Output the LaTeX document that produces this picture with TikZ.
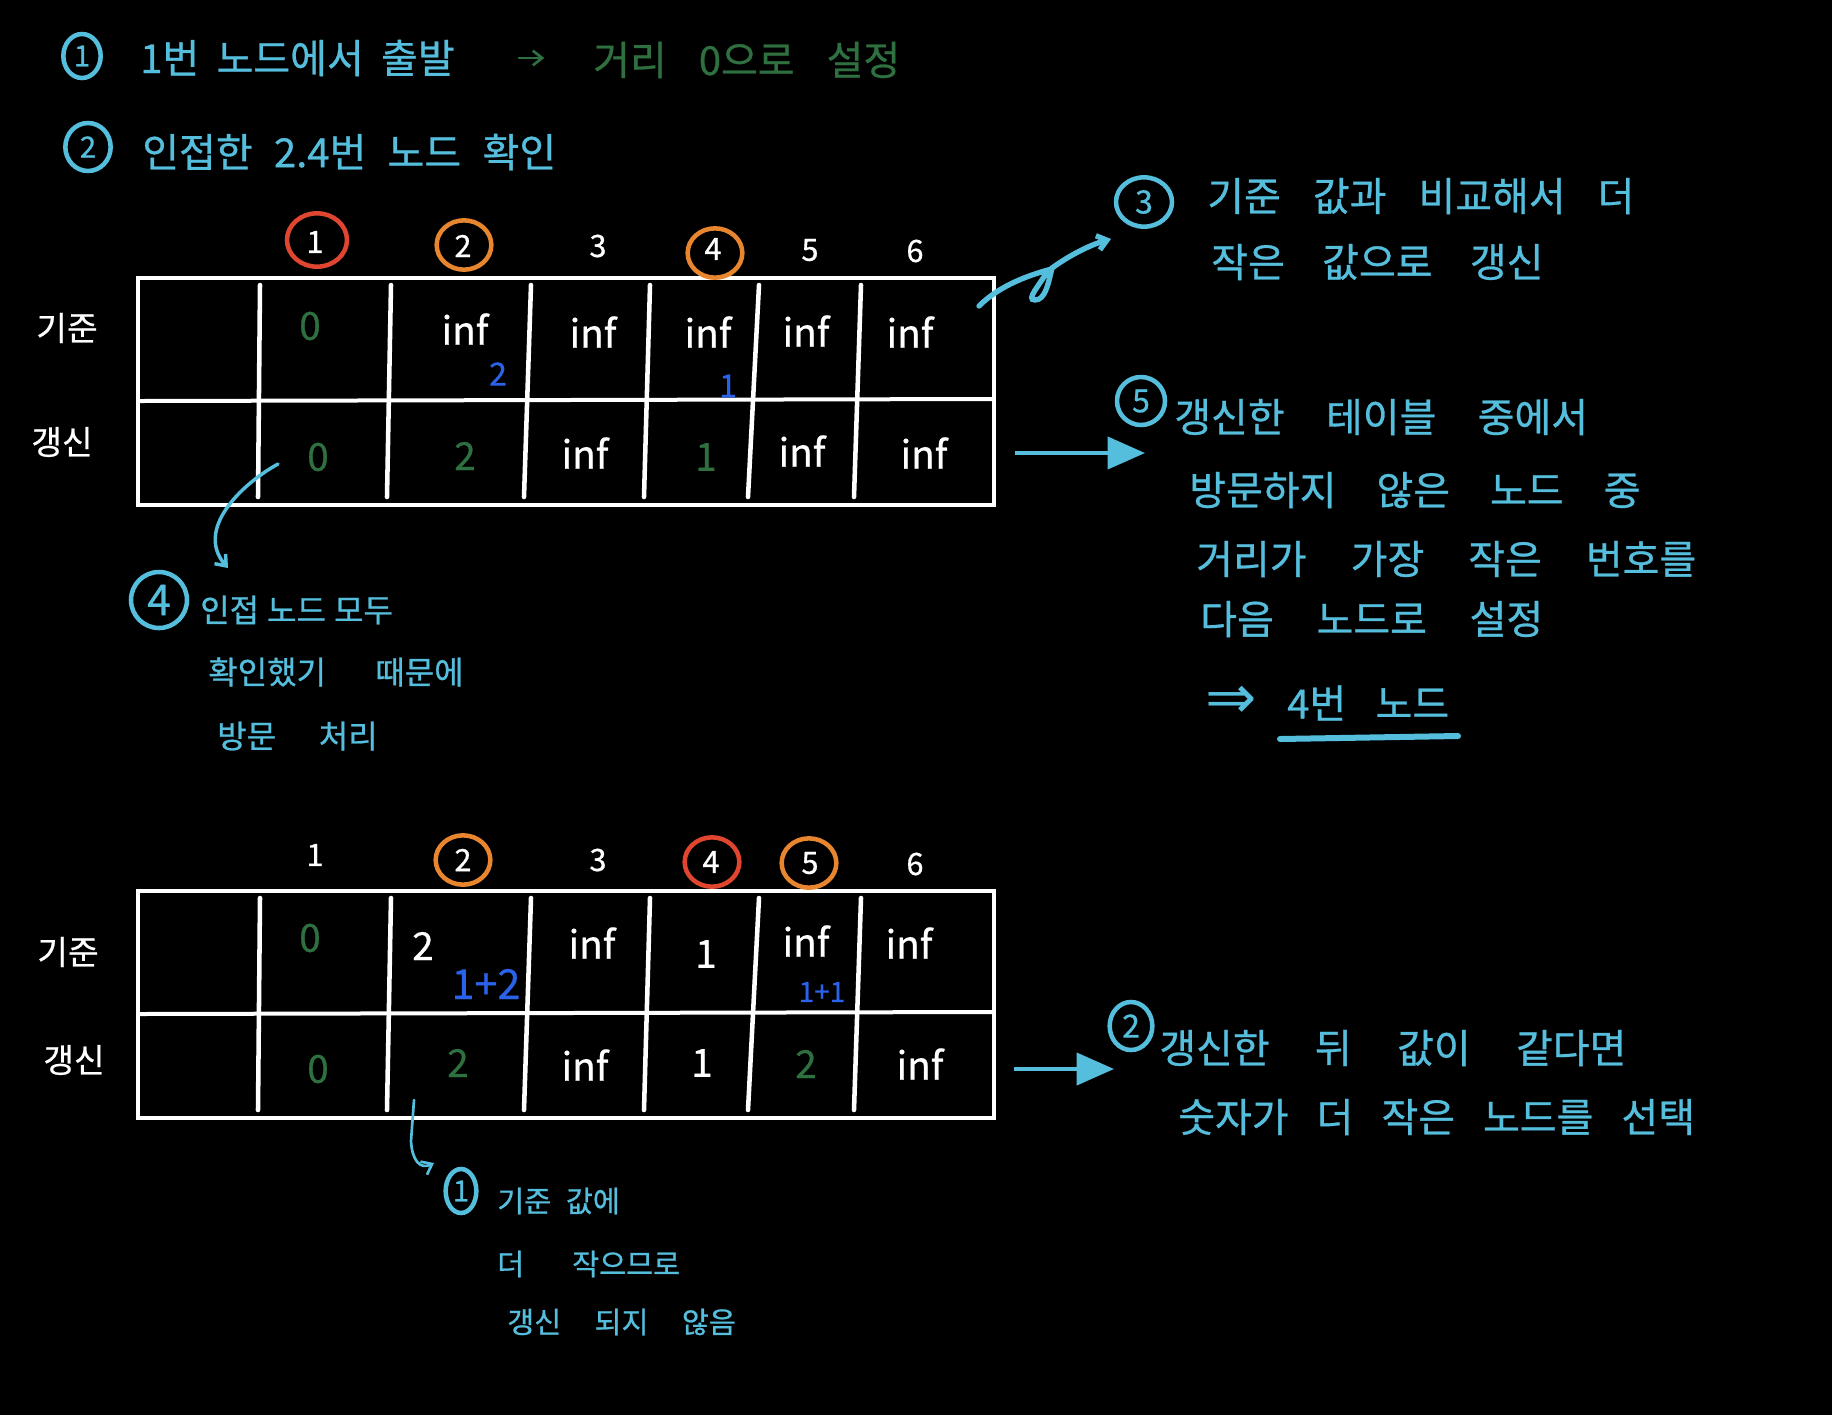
\documentclass[tikz,border=0pt]{standalone}
\usepackage{fontspec}
\setmainfont{Noto Sans CJK KR}[FakeBold=0.7]
\newfontfamily\symfont{DejaVu Sans}
\usepackage{tikz}
\usetikzlibrary{arrows.meta,positioning,shapes.geometric}
\usepackage{xcolor}
\definecolor{note}{HTML}{56BEDD}
\definecolor{dist}{HTML}{2F7040}
\definecolor{sumblue}{HTML}{2A62EA}
\definecolor{cur}{HTML}{E0452F}
\definecolor{near}{HTML}{E8852F}
\tikzset{
  gap/.style={execute at begin node={\spaceskip=#1pt\relax}},
  line/.style={font=\fontsize{30}{34}\selectfont, text=note, anchor=west, inner sep=0pt},
  smallline/.style={line, font=\fontsize{24}{28}\selectfont},
  tinyline/.style={line, font=\fontsize{22}{26}\selectfont},
  frame/.style={draw=white, line width=3pt, minimum width=642pt, minimum height=170pt, inner sep=0pt},
  cell/.style={font=\fontsize{29}{32}\selectfont, text=white, inner sep=0pt},
  head/.style={font=\fontsize{23}{26}\selectfont, text=white, inner sep=0pt},
  rowname/.style={font=\fontsize{25}{28}\selectfont, text=white, inner sep=0pt},
  sum/.style={font=\fontsize{24}{28}\selectfont, text=sumblue, inner sep=0pt},
  ring/.style={ellipse, draw=#1, line width=3.4pt, inner sep=0pt, minimum width=41pt, minimum height=37pt},
  numring/.style={ellipse, draw=note, line width=3.4pt, inner sep=0pt, text=note},
  ar/.style={-{Straight Barb[length=7pt,width=11pt]}, draw=note, line width=2pt, line cap=round},
  arbig/.style={-{Triangle[length=28pt,width=24pt]}, draw=note, line width=3pt}
}
\begin{document}
\begin{tikzpicture}[x=0.75pt,y=-0.75pt]
  \fill[black] (0,0) rectangle (1832,1415);
  \useasboundingbox (0,0) rectangle (1832,1415);

  \foreach \n/\x/\y/\w/\h/\f/\t in {
    A/82/56/28/33/22/1, B/88/147/34/36/22/2, C/1144/202/42/37/24/3, D/1141/401/36/36/24/5, E/159/600/42/42/32/4, F/461/1191/23/33/22/1, G/1131/1026/32/36/24/2} {
    \node[numring, font=\fontsize{\f}{\f}\selectfont, minimum width=\w pt, minimum height=\h pt] (ring\n) at (\x,\y) {\t};
  }

  \foreach \n/\x/\y/\g/\t in {
    a/140/58/13/1번 노드에서 출발,
    b/142/152/16/인접한 2.4번 노드 확인,
    c/1207/196/24/기준 값과 비교해서 더,
    d/1211/262/28/작은 값으로 갱신,
    e/1174/417/31/갱신한 테이블 중에서,
    f/1189/490/30/방문하지 않은 노드 중,
    g/1196/559/33/거리가 가장 작은 번호를,
    h/1200/619/32/다음 노드로 설정,
    i/1287/703/22/4번 노드,
    j/1159/1048/34/갱신한 뒤 값이 같다면,
    k/1178/1117/21/숫자가 더 작은 노드를 선택} {
    \node[line, gap=\g] (line\n) at (\x,\y) {\t};
  }
  \node[line, gap=24, text=dist] (linegreen) at (593,60) {거리 0으로 설정};
  \node[line, font=\symfont\fontsize{46}{48}\selectfont] (linearrow) at (1205,702) {⇒};
  \foreach \n/\x/\y/\g/\t in {
    a/200/610/6/인접 노드 모두,
    b/208/672/37/확인했기 때문에,
    c/217/736/32/방문 처리} {
    \node[smallline, gap=\g] (small\n) at (\x,\y) {\t};
  }
  \foreach \n/\x/\y/\g/\t in {
    a/497/1201/11/기준 값에,
    b/497/1264/36/더 작으므로,
    c/507/1322/25/갱신 되지 않음} {
    \node[tinyline, gap=\g] (tiny\n) at (\x,\y) {\t};
  }

  \draw[ar, draw=dist, shorten >=2pt] (linea.east) ++(64,0) coordinate (arrAs) -- ++(28,0);

  \foreach \t/\dy in {A/0, B/613} {
    \node[frame] (tab\t) at (566,391.5+\dy) {};
    \draw[white, line width=3pt] (140,401+\dy) -- (992,399+\dy);
    \foreach \xa/\xb in {260/258, 391/387, 531/524, 650/644, 759/748, 861/854} {
      \draw[white, line width=3.4pt, line cap=round] (\xa,285+\dy) -- (\xb,497+\dy);
    }
  }

  \node[rowname] (keyA) at (67,328) {기준};
  \node[rowname] (newA) at (62,442) {갱신};
  \node[rowname] (keyB) at (68,952) {기준};
  \node[rowname] (newB) at (74,1060) {갱신};

  \foreach \n/\x/\y/\t in {
    a1/315/242/1, a2/463/246/2, a3/598/246/3, a4/713/249/4, a5/810/250/5, a6/915/251/6,
    b1/315/855/1, b2/463/860/2, b3/598/860/3, b4/711/862/4, b5/810/863/5, b6/915/864/6} {
    \node[head] (head\n) at (\x,\y) {\t};
  }
  \node[ring=cur, minimum width=45pt, minimum height=40pt] (ringa) at (317,240) {};
  \node[ring=near] (ringb) at (464,245) {};
  \node[ring=near] (ringc) at (715,253) {};
  \node[ring=near] (ringd) at (463,860) {};
  \node[ring=cur] (ringe) at (712,862) {};
  \node[ring=near] (ringf) at (809,863) {};

  \foreach \n/\x/\y/\t/\c in {
    a1/310/326/0/dist, a2/465/329/inf/white, a3/593/332/inf/white, a4/708/332/inf/white, a5/806/331/inf/white, a6/910/332/inf/white,
    b1/318/457/0/dist, b2/465/456/2/dist, b3/585/453/inf/white, b4/706/457/1/dist, b5/802/451/inf/white, b6/924/453/inf/white,
    c1/310/938/0/dist, c2/423/946/2/white, c3/592/943/inf/white, c4/706/954/1/white, c5/806/941/inf/white, c6/909/943/inf/white,
    d1/318/1069/0/dist, d2/458/1063/2/dist, d3/585/1065/inf/white, d4/702/1063/1/white, d5/806/1064/2/dist, d6/920/1064/inf/white} {
    \node[cell, text=\c] (cell\n) at (\x,\y) {\t};
  }
  \node[sum] (suma) at (498,374) {2};
  \node[sum] (sumb) at (728,386) {1};
  \node[sum, font=\fontsize{31}{34}\selectfont] (sumc) at (486,984) {1+2};
  \node[sum, font=\fontsize{21}{24}\selectfont] (sumd) at (822,992) {1+1};

  \coordinate (arrCs) at (979,306);
  \coordinate (arrCe) at (1111,239);
  \draw[ar, line width=4pt] (arrCs) .. controls (1000,285) and (1030,275) .. (1048,270)
    .. controls (1040,285) and (1025,300) .. (1035,300)
    .. controls (1045,300) and (1048,285) .. (1052,268)
    .. controls (1070,255) and (1090,245) .. (arrCe);

  \coordinate (arrEs) at (278,464);
  \coordinate (arrEe) at (228,568);
  \draw[ar, line width=2.6pt] (arrEs) .. controls (240,485) and (195,530) .. (arrEe);

  \coordinate (arrFs) at (414,1100);
  \coordinate (arrFe) at (434,1163);
  \draw[ar] (arrFs) -- (411,1141) .. controls (412,1160) and (420,1170) .. (arrFe);

  \coordinate (bigAs) at (1015,453);
  \coordinate (bigAe) at (1145,453);
  \draw[arbig] (bigAs) -- (bigAe);
  \coordinate (bigBs) at (1014,1069);
  \coordinate (bigBe) at (1114,1069);
  \draw[arbig] (bigBs) -- (bigBe);

  \coordinate (unders) at (1280,739);
  \coordinate (undere) at (1458,736);
  \draw[draw=note, line width=4.5pt, line cap=round] (unders) -- (undere);
\end{tikzpicture}
\end{document}
